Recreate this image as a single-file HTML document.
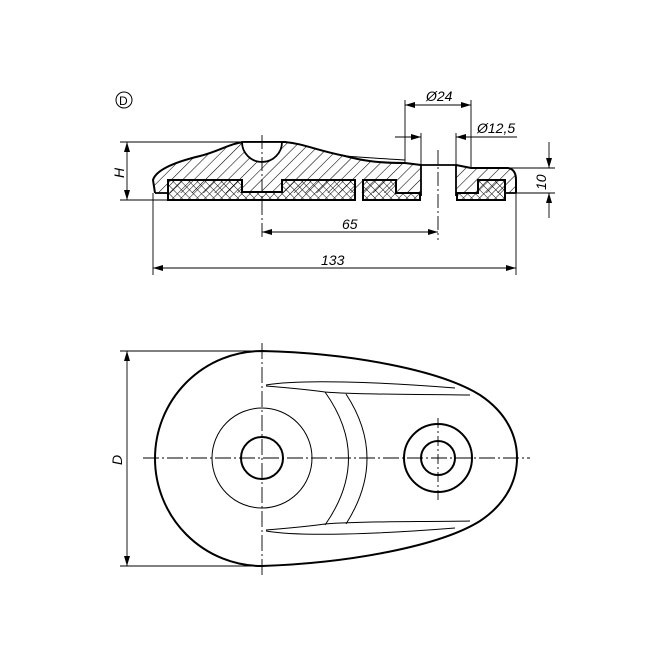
<!DOCTYPE html>
<html><head><style>
html,body{margin:0;padding:0;background:#fff;}
svg{display:block;}
text{font-family:"Liberation Sans",sans-serif;font-style:italic;font-size:14px;fill:#000;}
</style></head><body>
<svg width="654" height="654" viewBox="0 0 654 654" xmlns="http://www.w3.org/2000/svg">
<defs>
<pattern id="hatch" width="8" height="8" patternUnits="userSpaceOnUse" patternTransform="rotate(45)">
<line x1="0" y1="0" x2="0" y2="8" stroke="#000" stroke-width="1.1"/>
</pattern>
<pattern id="cross" width="5.7" height="5.7" patternUnits="userSpaceOnUse" patternTransform="rotate(45)">
<path d="M0 0H5.7M0 0V5.7" stroke="#000" stroke-width="1" fill="none"/>
</pattern>
<marker id="a" viewBox="0 0 10 6" refX="10" refY="3" markerWidth="10" markerHeight="6" orient="auto-start-reverse" markerUnits="userSpaceOnUse">
<path d="M0 0L10 3L0 6z" fill="#000"/>
</marker>
</defs>

<circle cx="124" cy="100" r="8" fill="none" stroke="#000" stroke-width="1"/>
<text x="119" y="105" style="font-style:normal;font-size:12px">D</text>

<path d="M155,193 L153,180 C156,170 175,162 200,156 C220,151 230,143 245,142 L285,142 C305,144 315,150 345,156 C360,160 375,163 405,163 L421,165 L421,193 Z" fill="url(#hatch)" stroke="none"/>
<path d="M456,165 L471,168 L508,168 C514,169 516,174 516,180 L516,193 L456,193 Z" fill="url(#hatch)"/>
<path d="M155,193 L153,180 C156,170 175,162 200,156 C220,151 230,143 245,142 L285,142 C305,144 315,150 345,156 C360,160 375,163 405,163 L421,165 M456,165 L471,168 L508,168 C514,169 516,174 516,180 L516,193" fill="none" stroke="#000" stroke-width="2"/>
<path d="M345,156 C370,158 390,159 405,160" fill="none" stroke="#000" stroke-width="1"/>
<path d="M242,142 A20,20 0 0 0 282,142 Z" fill="#fff" stroke="#000" stroke-width="1.8"/>
<rect x="421" y="165" width="35" height="28" fill="#fff"/>
<path d="M421,165 V196 M456,165 V196 M421,165 H456" fill="none" stroke="#000" stroke-width="1.8"/>
<g stroke="#000" stroke-width="2" fill="url(#cross)">
<path d="M168,180 H242 V192 H282 V180 H355 V200 H168 Z"/>
<path d="M363,180 H396 V193 H420 V200 H363 Z"/>
<path d="M478,180 H505 V200 H457 V193 H478 Z"/>
</g>
<line x1="155" y1="193" x2="168" y2="193" stroke="#000" stroke-width="1.8"/>
<line x1="505" y1="193" x2="516" y2="193" stroke="#000" stroke-width="1.8"/>

<g stroke="#000" stroke-width="0.9" fill="none">
<line x1="262" y1="135" x2="262" y2="240" stroke-dasharray="14,3,2,3"/>
<line x1="438" y1="150" x2="438" y2="240" stroke-dasharray="14,3,2,3"/>
<line x1="120" y1="142" x2="245" y2="142"/>
<line x1="120" y1="200" x2="168" y2="200"/>
<line x1="127" y1="142" x2="127" y2="200" marker-start="url(#a)" marker-end="url(#a)"/>
<line x1="405" y1="100" x2="405" y2="163"/>
<line x1="471" y1="100" x2="471" y2="168"/>
<line x1="405" y1="105" x2="471" y2="105" marker-start="url(#a)" marker-end="url(#a)"/>
<line x1="421" y1="133" x2="421" y2="165"/>
<line x1="456" y1="133" x2="456" y2="165"/>
<line x1="395" y1="137" x2="421" y2="137" marker-end="url(#a)"/>
<line x1="517" y1="137" x2="456" y2="137" marker-end="url(#a)"/>
<line x1="471" y1="168" x2="555" y2="168"/>
<line x1="516" y1="193" x2="555" y2="193"/>
<line x1="549" y1="142" x2="549" y2="168" marker-end="url(#a)"/>
<line x1="549" y1="218" x2="549" y2="193" marker-end="url(#a)"/>
<line x1="262" y1="232" x2="438" y2="232" marker-start="url(#a)" marker-end="url(#a)"/>
<line x1="153" y1="193" x2="153" y2="275"/>
<line x1="516" y1="193" x2="516" y2="275"/>
<line x1="153" y1="268" x2="516" y2="268" marker-start="url(#a)" marker-end="url(#a)"/>
</g>
<text x="426" y="101">Ø24</text>
<text x="477" y="133">Ø12,5</text>
<text x="342" y="229">65</text>
<text x="321" y="265">133</text>
<text transform="translate(124,178) rotate(-90)">H</text>
<text transform="translate(546,190) rotate(-90)">10</text>

<g fill="none" stroke="#000">
<path d="M262,351 C350,353 440,370 480,395 C510,415 517,440 517,458 C517,476 510,501 480,521 C440,546 350,563 262,566 A107,107.5 0 0 1 262,351 Z" stroke-width="2"/>
<circle cx="262" cy="458" r="50" stroke-width="1"/>
<circle cx="262" cy="458" r="21" stroke-width="2"/>
<circle cx="438" cy="458" r="34" stroke-width="2"/>
<circle cx="438" cy="458" r="17" stroke-width="2"/>
<path d="M325,392 Q372,458 325,525" stroke-width="1"/>
<path d="M346,394 Q388,458 346,524" stroke-width="1"/>
<path d="M266,385 C300,379 380,382 455,388 M266,386 C290,388 310,390 325,392 C360,395 420,394 470,395" stroke-width="1"/>
<path d="M266,531 C300,537 380,534 455,528 M266,530 C290,528 310,526 325,524 C360,521 420,522 470,521" stroke-width="1"/>
<g stroke-width="0.9">
<line x1="143" y1="458" x2="530" y2="458" stroke-dasharray="16,3,2,3"/>
<line x1="262" y1="343" x2="262" y2="575" stroke-dasharray="16,3,2,3"/>
<line x1="438" y1="418" x2="438" y2="500" stroke-dasharray="10,3,2,3"/>
<line x1="120" y1="351" x2="262" y2="351"/>
<line x1="120" y1="566" x2="262" y2="566"/>
<line x1="127" y1="351" x2="127" y2="566" marker-start="url(#a)" marker-end="url(#a)"/>
</g>
</g>
<text transform="translate(122,465) rotate(-90)">D</text>
</svg>
</body></html>
